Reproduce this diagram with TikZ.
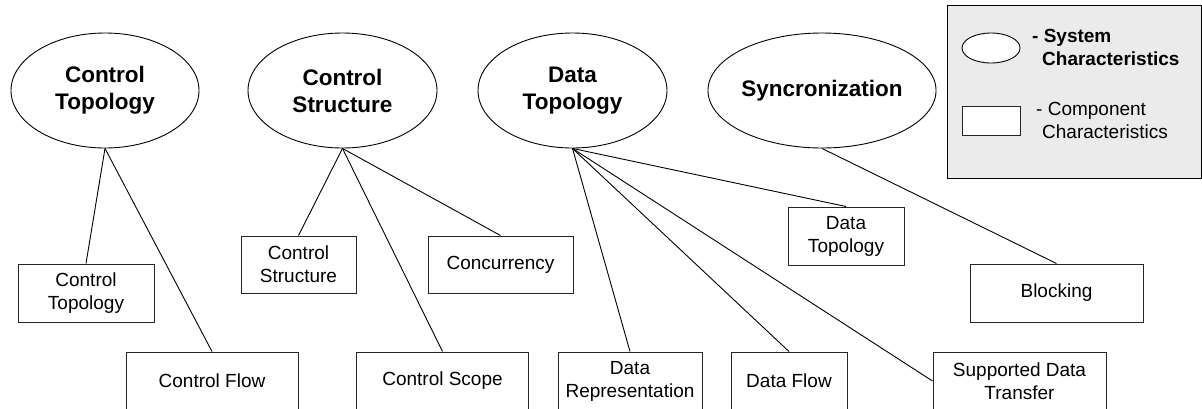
\documentclass[tikz,border=0pt]{standalone}
\usepackage{fontspec}
\setmainfont{Liberation Sans}
\usetikzlibrary{shapes.geometric}

\tikzset{
  sysnode/.style={draw=black, line width=0.9pt, ellipse, inner sep=0pt,
    font=\fontsize{22.5}{27}\selectfont\bfseries, align=center},
  compbox/.style={draw=black!85, line width=1pt, rectangle, inner sep=0pt,
    font=\fontsize{19}{23}\selectfont, align=center},
  link/.style={draw=black, line width=0.9pt},
  legendtext/.style={anchor=west, inner sep=0pt, align=left,
    font=\fontsize{19}{23}\selectfont}
}

\begin{document}
\begin{tikzpicture}[x=1pt, y=-1pt]
\useasboundingbox (0,0) rectangle (1202,408);

% system characteristics
\node[sysnode, minimum width=188pt, minimum height=115pt] (ctop) at (105,90.5) {Control\\Topology};
\node[sysnode, minimum width=189pt, minimum height=115pt] (cstr) at (342.5,90.5) {Control\\Structure};
\node[sysnode, minimum width=189pt, minimum height=115pt] (dtop) at (572.5,90.5) {Data\\Topology};
\node[sysnode, minimum width=210pt, minimum height=115pt] (sync) at (822,90.5) {Syncronization};

% component characteristics
\node[compbox, minimum width=136pt, minimum height=58pt] (bctop) at (86,293) {Control\\Topology};
\node[compbox, minimum width=172pt, minimum height=58pt] (bcflow) at (212,381) {Control Flow};
\node[compbox, minimum width=115pt, minimum height=57pt] (bcstr) at (298.5,264.5) {Control\\Structure};
\node[compbox, minimum width=145pt, minimum height=57pt] (bconc) at (500.5,264.5) {Concurrency};
\node[compbox, minimum width=172pt, minimum height=58pt] (bcscope) at (442.5,381) {Control Scope};
\node[compbox, minimum width=144pt, minimum height=58pt] (bdrep) at (630,381) {Data\\Representation};
\node[compbox, minimum width=116pt, minimum height=58pt] (bdflow) at (789,381) {Data Flow};
\node[compbox, minimum width=116pt, minimum height=58pt] (bdtop) at (846,236) {Data\\Topology};
\node[compbox, minimum width=173pt, minimum height=58pt] (bsdt) at (1019.5,381) {Supported Data\\Transfer};
\node[compbox, minimum width=173pt, minimum height=58pt] (bblock) at (1056.5,293) {Blocking};

% connectors
\draw[link] (ctop.south) -- (bctop.north);
\draw[link] (ctop.south) -- (bcflow.north);
\draw[link] (cstr.south) -- (bcstr.north);
\draw[link] (cstr.south) -- (bconc.north);
\draw[link] (cstr.south) -- (bcscope.north);
\draw[link] (dtop.south) -- (bdrep.north);
\draw[link] (dtop.south) -- (bdflow.north);
\draw[link] (dtop.south) -- (bdtop.north);
\draw[link] (dtop.south) -- (bsdt.west);
\draw[link] (sync.south) -- (bblock.north);

% legend
\node[draw=black, line width=1pt, fill=black!8, rectangle, inner sep=0pt,
      minimum width=254pt, minimum height=173pt] (legend) at (1074,91.5) {};
\node[draw=black, line width=0.9pt, fill=white, ellipse, inner sep=0pt,
      minimum width=58pt, minimum height=30pt] (legsys) at (991,48) {};
\node[draw=black!85, line width=1pt, fill=white, rectangle, inner sep=0pt,
      minimum width=58pt, minimum height=29pt] (legcomp) at (991,120.5) {};
\node[legendtext, font=\fontsize{19}{23}\selectfont\bfseries] (legsyst) at (1032,47.5)
  {- System\\\hspace{10pt}Characteristics};
\node[legendtext] (legcompt) at (1036,120.5)
  {- Component\\\hspace{6pt}Characteristics};
\end{tikzpicture}
\end{document}
